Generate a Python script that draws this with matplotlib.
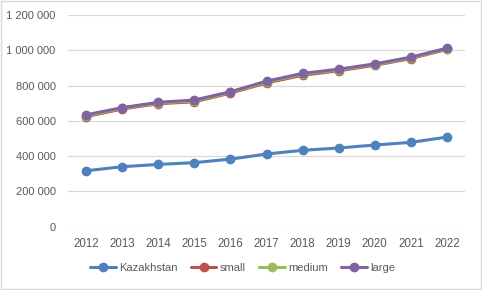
import matplotlib
matplotlib.use("Agg")
import matplotlib.pyplot as plt
from matplotlib.ticker import FuncFormatter
from matplotlib.patches import Rectangle

plt.rcParams['font.family'] = ['Liberation Sans', 'DejaVu Sans']

# 数据
years = [2012, 2013, 2014, 2015, 2016, 2017, 2018, 2019, 2020, 2021, 2022]
kazakhstan = [317000, 340000, 353000, 363000, 383000, 412000, 433000, 446000, 463000, 478000, 508000]
small = [624000, 667000, 697000, 708000, 757000, 815000, 858000, 884000, 915000, 953000, 1005000]
medium = [629000, 671000, 701000, 713000, 761000, 820000, 864000, 889000, 919000, 957000, 1008000]
large = [634000, 675000, 705000, 718000, 765000, 825000, 869000, 893000, 923000, 961000, 1012000]
yticks = [0, 200000, 400000, 600000, 800000, 1000000, 1200000]

series = [
    ('Kazakhstan', kazakhstan, '#4F81BD'),
    ('small', small, '#C0504D'),
    ('medium', medium, '#9BBB59'),
    ('large', large, '#8064A2'),
]

fig = plt.figure(figsize=(4.82, 2.90), dpi=100)
ax = fig.add_axes([68 / 482, 1 - 226.7 / 290, (465 - 68) / 482, (226.7 - 15) / 290])

for name, vals, col in series:
    ax.plot(years, vals, color=col, lw=2.2, marker='o', ms=6, label=name,
            solid_capstyle='round', zorder=3)

ax.set_xlim(2011.5, 2022.5)
ax.set_ylim(0, 1200000)
ax.set_xticks(years)
ax.set_yticks(yticks)
ax.yaxis.set_major_formatter(FuncFormatter(lambda v, p: f"{int(v):,}".replace(",", " ")))
ax.grid(axis='y', color='#d9d9d9', lw=0.9, zorder=0)
for s in ax.spines.values():
    s.set_visible(False)
ax.tick_params(length=0, labelsize=8, colors='#595959')
ax.tick_params(axis='x', pad=8, labelsize=8.3)
ax.tick_params(axis='y', pad=9)

fig.legend(loc='center', bbox_to_anchor=(0.503, 1 - 268 / 290), ncol=4, frameon=False,
           fontsize=8, handlelength=2.3, handletextpad=0.3, columnspacing=1.2,
           labelcolor='#595959')

# 外边框
fig.patches.append(Rectangle((0.002, 0.003), 0.995, 0.993, transform=fig.transFigure,
                             fill=False, edgecolor='#d9d9d9', lw=1))

fig.savefig("out.png", dpi=100)
